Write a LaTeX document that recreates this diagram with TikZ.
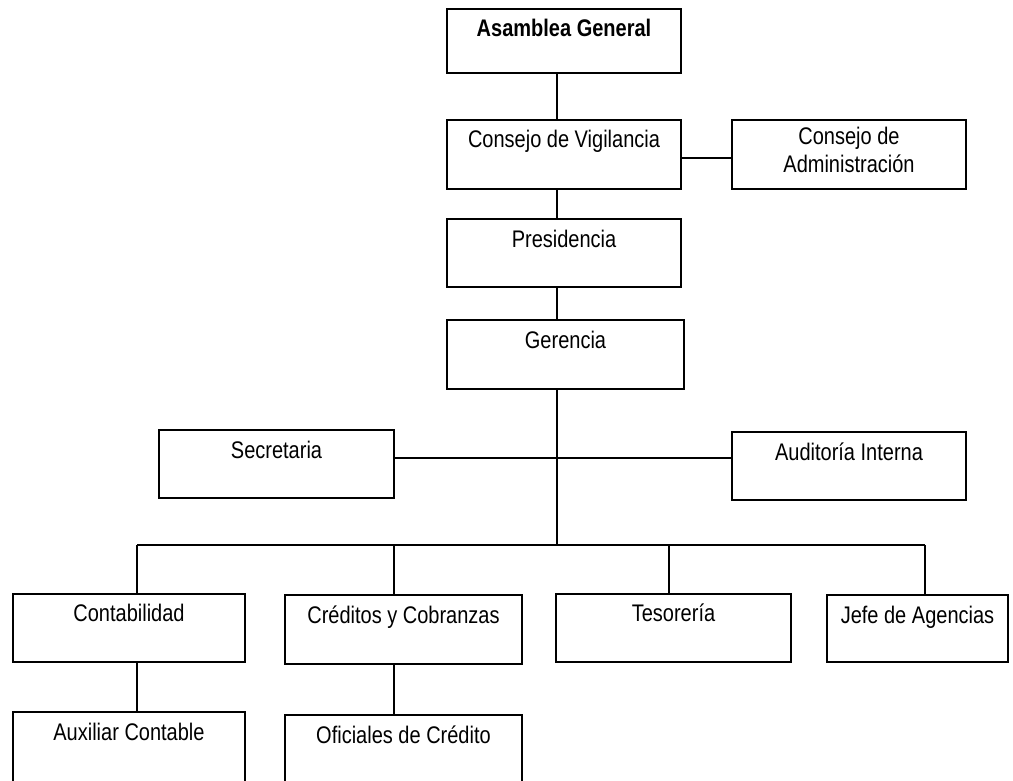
\documentclass[tikz,border=0pt]{standalone}
\usepackage{fontspec}
\setmainfont{Liberation Sans}
\newcommand\tx[1]{\scalebox{1}[1.2]{#1}}
\begin{document}
\begin{tikzpicture}[x=1pt,y=-1pt,
  box/.style={draw=black, line width=1.4pt, rectangle, inner sep=0pt},
  lbl/.style={anchor=base, inner sep=0pt, font=\fontsize{20}{24}\selectfont, text=black},
  conn/.style={draw=black, line width=1.4pt}]
\useasboundingbox (0,0) rectangle (1013,780);
\fill[white] (0,0) rectangle (1013,780);
\clip (0,0) rectangle (1013,780);
% boxes
\node[box, minimum width=234pt, minimum height=64pt] (ag) at (564,41) {};
\node[box, minimum width=234pt, minimum height=69pt] (cv) at (564,154.5) {};
\node[box, minimum width=234pt, minimum height=69pt] (ca) at (849,154.5) {};
\node[box, minimum width=234pt, minimum height=68pt] (pr) at (564,253) {};
\node[box, minimum width=237pt, minimum height=69pt] (ge) at (565.5,354.5) {};
\node[box, minimum width=235pt, minimum height=68pt] (se) at (276.5,464) {};
\node[box, minimum width=234pt, minimum height=68pt] (ai) at (849,466) {};
\node[box, minimum width=232pt, minimum height=68pt] (co) at (129,628) {};
\node[box, minimum width=237pt, minimum height=69pt] (cc) at (403.5,629.5) {};
\node[box, minimum width=235pt, minimum height=68pt] (te) at (673.5,628) {};
\node[box, minimum width=181pt, minimum height=67pt] (ja) at (917.5,628.5) {};
\node[box, minimum width=232pt, minimum height=88pt] (ax) at (129,756) {};
\node[box, minimum width=237pt, minimum height=85pt] (of) at (403.5,757.5) {};
% labels
\node[lbl] (tag) at ([yshift=-28pt]ag.north) {\tx{\bfseries Asamblea General}};
\node[lbl] (tcv) at ([yshift=-28pt]cv.north) {\tx{Consejo de Vigilancia}};
\node[lbl] (tca1) at ([yshift=-25pt]ca.north) {\tx{Consejo de}};
\node[lbl] (tca2) at ([yshift=-53pt]ca.north) {\tx{Administración}};
\node[lbl] (tpr) at ([yshift=-29pt]pr.north) {\tx{Presidencia}};
\node[lbl] (tge) at ([yshift=-29pt]ge.north) {\tx{Gerencia}};
\node[lbl] (tse) at ([yshift=-29pt]se.north) {\tx{Secretaria}};
\node[lbl] (tai) at ([yshift=-29pt]ai.north) {\tx{Auditoría Interna}};
\node[lbl] (tco) at ([yshift=-28pt]co.north) {\tx{Contabilidad}};
\node[lbl] (tcc) at ([yshift=-29pt]cc.north) {\tx{Créditos y Cobranzas}};
\node[lbl] (tte) at ([yshift=-28pt]te.north) {\tx{Tesorería}};
\node[lbl] (tja) at ([yshift=-29pt]ja.north) {\tx{Jefe de Agencias}};
\node[lbl] (tax) at ([yshift=-29pt]ax.north) {\tx{Auxiliar Contable}};
\node[lbl] (tof) at ([yshift=-29pt]of.north) {\tx{Oficiales de Crédito}};
% coordinates
\coordinate (sp) at (557,0);
\coordinate (mid) at (557,458);
\coordinate (b1) at (137,545);
\coordinate (b2) at (394,545);
\coordinate (bg) at (557,545);
\coordinate (b3) at (669,545);
\coordinate (b4) at (925,545);
% connectors
\draw[conn] (ag.south -| sp) -- (cv.north -| sp);
\draw[conn] ([yshift=-3.5pt]cv.east) -- ([yshift=-3.5pt]ca.west);
\draw[conn] (cv.south -| sp) -- (pr.north -| sp);
\draw[conn] (pr.south -| sp) -- (ge.north -| sp);
\draw[conn] (ge.south -| sp) -- (bg);
\draw[conn] (se.east |- mid) -- (ai.west |- mid);
\draw[conn] (b1) -- (b4);
\draw[conn] (b1) -- (co.north -| b1);
\draw[conn] (b2) -- (cc.north -| b2);
\draw[conn] (b3) -- (te.north -| b3);
\draw[conn] (b4) -- (ja.north -| b4);
\draw[conn] (co.south -| b1) -- (ax.north -| b1);
\draw[conn] (cc.south -| b2) -- (of.north -| b2);
\end{tikzpicture}
\end{document}
